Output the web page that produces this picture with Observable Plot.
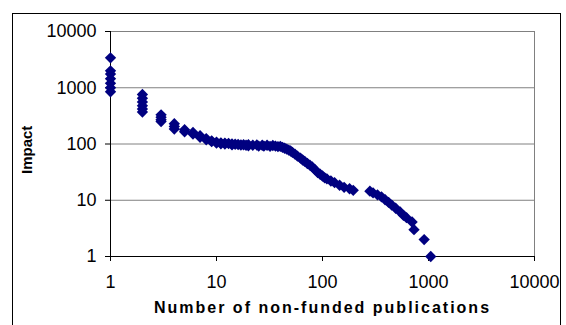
<!DOCTYPE html>
<html>
<head>
<meta charset="utf-8">
<script src="https://cdn.jsdelivr.net/npm/d3@7"></script>
<script src="https://cdn.jsdelivr.net/npm/@observablehq/plot@0.6"></script>
<style>
  body { margin: 0; background: white; }
  #wrap { position: relative; width: 566px; height: 325px; overflow: hidden; }
  #border { position: absolute; left: 12px; top: 13px; width: 547px; height: 340px; border: 1px solid #000; pointer-events: none; }
</style>
</head>
<body>
<div id="wrap"><div id="border"></div></div>
<script>
const pubCounts = [
  1,1,1,1,1,1,1,
  2,2,2,2,2,2,
  3,3,3,3,
  4,4,4,
  5,5, 6,6, 7,7, 8,8, 9,9, 10,10, 11,11, 12,12,
  13, 14,14, 15, 16, 17, 18, 19, 20,20, 22, 24, 25, 27, 28, 30, 32, 34, 36, 38, 40,
  42, 44, 46, 48, 50, 52, 55, 58, 62, 65, 68, 72, 76, 80, 85, 90, 95, 100, 105, 110,
  120, 130, 145, 160, 180, 195,
  280, 300, 330, 360, 390, 420, 450, 490, 540, 580, 620, 700, 730, 910, 1050
];
const impacts = [
  3400,2000,1750,1450,1200,1000,850,
  760,650,560,480,420,370,
  330,300,270,250,
  230,205,185,
  180,165, 160,150, 140,132, 125,119, 114,110, 108,104, 105,101, 104,100,
  102, 100,97, 99, 98, 96, 97, 95, 97,93, 95, 96, 92, 95, 92, 95, 91, 94, 92, 90, 91,
  87, 84, 81, 78, 75, 71, 66, 61, 56, 52, 49, 45, 42, 39, 35, 31, 29, 27, 25, 24,
  22, 20.5, 18.5, 17, 16, 15,
  14.5, 13.5, 12.5, 11.5, 10.2, 9.2, 8.2, 7.2, 6.2, 5.4, 4.9, 4.1, 3, 2, 1
];
const xTicks = [1, 10, 100, 1000, 10000];
const yTicks = [1, 10, 100, 1000, 10000];
const xTitle = "Number of non-funded publications";
const yTitle = "Impact";

const data = pubCounts.map((x, i) => ({x, y: impacts[i]}));
const font = "'Liberation Sans', Arial, sans-serif";

const chart = Plot.plot({
  width: 566,
  height: 325,
  marginLeft: 110,
  marginRight: 32,
  marginTop: 31,
  marginBottom: 69,
  style: {fontFamily: font, fontSize: "18px", background: "transparent", color: "#000", overflow: "visible"},
  x: {type: "log", domain: [1, 10000], ticks: xTicks, tickFormat: d => String(d), tickSize: 5, tickPadding: 14, label: null},
  y: {type: "log", domain: [1, 10000], ticks: yTicks, tickFormat: d => String(d), tickSize: 5, tickPadding: 9, label: null},
  marks: [
    Plot.ruleY(yTicks.slice(1), {stroke: "#808080", strokeWidth: 1}),
    Plot.ruleX([10000], {stroke: "#808080", strokeWidth: 1}),
    Plot.ruleX([1], {stroke: "#000", strokeWidth: 1}),
    Plot.ruleY([1], {stroke: "#000", strokeWidth: 1}),
    Plot.dot(data, {x: "x", y: "y", symbol: "diamond2", r: 5.1, fill: "#000080", stroke: "none"}),
    Plot.text([xTitle], {frameAnchor: "bottom", dy: 51.5, text: d => d, fontSize: 16, fontWeight: "bold", fill: "#000", lineAnchor: "middle"}),
    Plot.text([yTitle], {frameAnchor: "left", dx: -83, dy: 30, text: d => d, rotate: -90, fontSize: 15, fontWeight: "bold", fill: "#000", lineAnchor: "middle"})
  ]
});
d3.select(chart).selectAll("text").filter(function() { return this.textContent === xTitle; })
  .style("letter-spacing", "2px");
document.getElementById("wrap").prepend(chart);
</script>
</body>
</html>
